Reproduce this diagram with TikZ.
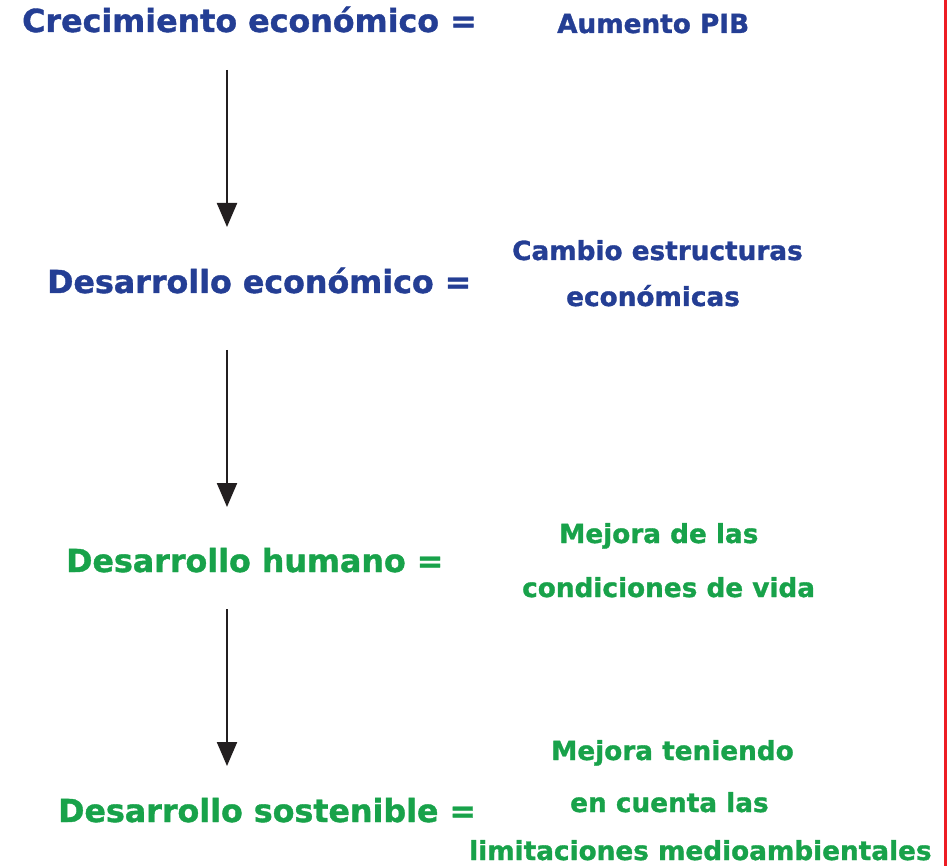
\documentclass[tikz,border=0pt]{standalone}
\usepackage{fontspec}
\usepackage{xcolor}
\usetikzlibrary{arrows.meta}
\newfontfamily\diagfont{DejaVu Sans}[BoldFeatures={FakeBold=1.2}]
\definecolor{econblue}{RGB}{36,62,148}
\definecolor{humgreen}{RGB}{24,162,74}
\definecolor{arrowgray}{RGB}{35,31,32}
\definecolor{edgered}{RGB}{237,28,36}
\tikzset{
  bigterm/.style={anchor=base west, inner sep=0pt, font=\diagfont\bfseries\fontsize{31.7}{36}\selectfont},
  smallterm/.style={anchor=base west, inner sep=0pt, font=\diagfont\bfseries\fontsize{26.3}{30}\selectfont},
  stagearrow/.style={line width=2.2pt, arrowgray, -{Triangle[width=20pt,length=24pt]}}
}
\begin{document}
\begin{tikzpicture}[x=1pt, y=-1pt]
        \useasboundingbox (0,0) rectangle (948,866);

        % Red rule at the right edge
        \draw[line width=2.6pt, edgered] (945.5,0) -- (945.5,866);

        % Terms on the left
        \node[bigterm, econblue] (T1) at (22,32) {Crecimiento económico =};
        \node[bigterm, econblue] (T2) at (47,293) {Desarrollo económico =};
        \node[bigterm, humgreen] (T3) at (66,572) {Desarrollo humano =};
        \node[bigterm, humgreen] (T4) at (58,822) {Desarrollo sostenible =};

        % Meanings on the right
        \node[smallterm, econblue] (M1) at (557,33) {Aumento PIB};
        \node[smallterm, econblue] (M2a) at (512,260) {Cambio estructuras};
        \node[smallterm, econblue] (M2b) at (566,306) {económicas};
        \node[smallterm, humgreen] (M3a) at (559,543) {Mejora de las};
        \node[smallterm, humgreen] (M3b) at (522,597) {condiciones de vida};
        \node[smallterm, humgreen] (M4a) at (551,760) {Mejora teniendo};
        \node[smallterm, humgreen] (M4b) at (570,812) {en cuenta las};
        \node[smallterm, humgreen] (M4c) at (469,860) {limitaciones medioambientales};

        % Arrow end points
        \coordinate (S1) at (227,70);
        \coordinate (E1) at (227,227);
        \coordinate (S2) at (227,350);
        \coordinate (E2) at (227,507);
        \coordinate (S3) at (227,609);
        \coordinate (E3) at (227,766);

        % Arrows between the stages
        \draw[stagearrow] (S1) -- (E1);
        \draw[stagearrow] (S2) -- (E2);
        \draw[stagearrow] (S3) -- (E3);
    \end{tikzpicture}
\end{document}
